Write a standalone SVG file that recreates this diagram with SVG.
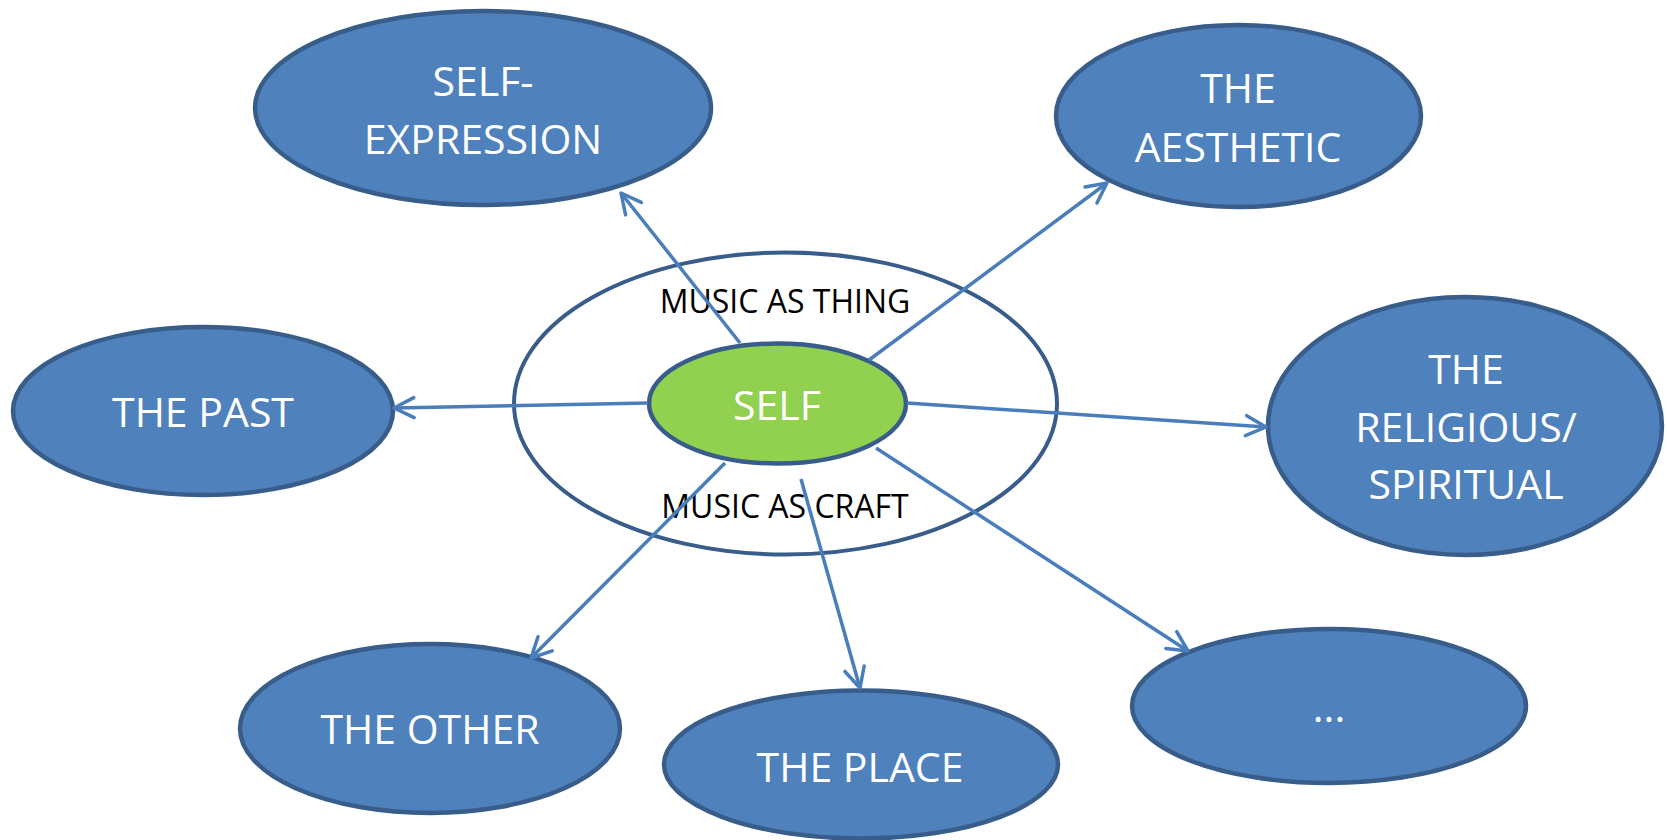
<svg xmlns="http://www.w3.org/2000/svg" width="1667" height="840" viewBox="0 0 1667 840">
  <defs>
    <style>
      .node { fill: #4F81BD; stroke: #385D8A; stroke-width: 4.5; }
      .self { fill: #92D050; stroke: #385D8A; stroke-width: 4.5; }
      .ring { fill: #FFFFFF; stroke: #385D8A; stroke-width: 4; }
      .lbl { font-family: "Open Sans", "Liberation Sans", sans-serif; font-size: 41px; fill: #FFFFFF; text-anchor: middle; }
      .ctx { font-family: "Open Sans", "Liberation Sans", sans-serif; font-size: 32px; fill: #000000; text-anchor: middle; }
      .conn line { stroke: #4A7EBB; stroke-width: 3.5; fill: none; marker-end: url(#arrow); }
    </style>
    <marker id="arrow" viewBox="-24 -13 27 26" refX="0" refY="0" markerWidth="27" markerHeight="26" markerUnits="userSpaceOnUse" orient="auto">
      <path d="M-20,-10 L0,0 L-20,10" fill="none" stroke="#4A7EBB" stroke-width="3.5" stroke-linecap="round" stroke-linejoin="round"/>
    </marker>
  </defs>
  <rect width="1667" height="840" fill="#FFFFFF"/>

  <g id="music-context">
    <ellipse class="ring" cx="785.5" cy="403.5" rx="271.5" ry="151"/>
    <text class="ctx" x="785" y="313">MUSIC AS THING</text>
    <text class="ctx" x="785" y="518">MUSIC AS CRAFT</text>
  </g>

  <g id="node-self">
    <ellipse class="self" cx="777.5" cy="403.5" rx="128.5" ry="60"/>
    <text class="lbl" x="777" y="420">SELF</text>
  </g>

  <g id="node-self-expression">
    <ellipse class="node" cx="483" cy="108" rx="228" ry="97"/>
    <text class="lbl" x="483" y="96">SELF-</text>
    <text class="lbl" x="483" y="154">EXPRESSION</text>
  </g>

  <g id="node-aesthetic">
    <ellipse class="node" cx="1238.5" cy="116" rx="182.5" ry="91"/>
    <text class="lbl" x="1238" y="103">THE</text>
    <text class="lbl" x="1238" y="162">AESTHETIC</text>
  </g>

  <g id="node-past">
    <ellipse class="node" cx="203" cy="411" rx="190" ry="84"/>
    <text class="lbl" x="203" y="427">THE PAST</text>
  </g>

  <g id="node-religious">
    <ellipse class="node" cx="1465" cy="426" rx="197" ry="129"/>
    <text class="lbl" x="1466" y="384">THE</text>
    <text class="lbl" x="1466" y="442">RELIGIOUS/</text>
    <text class="lbl" x="1466" y="499">SPIRITUAL</text>
  </g>

  <g id="node-other">
    <ellipse class="node" cx="430" cy="728.5" rx="190" ry="84.5"/>
    <text class="lbl" x="430" y="744">THE OTHER</text>
  </g>

  <g id="node-place">
    <ellipse class="node" cx="861" cy="764.5" rx="197" ry="74"/>
    <text class="lbl" x="860" y="782">THE PLACE</text>
  </g>

  <g id="node-more">
    <ellipse class="node" cx="1329" cy="706" rx="197" ry="77"/>
    <text class="lbl" x="1329" y="722">...</text>
  </g>

  <g id="connectors" class="conn">
    <line x1="740" y1="343" x2="621" y2="193"/>
    <line x1="648" y1="403" x2="394" y2="408"/>
    <line x1="869" y1="360" x2="1107" y2="183"/>
    <line x1="907" y1="403" x2="1266" y2="427"/>
    <line x1="725" y1="463" x2="531" y2="658"/>
    <line x1="801" y1="479" x2="860" y2="688"/>
    <line x1="876" y1="448" x2="1188" y2="651"/>
  </g>
</svg>
